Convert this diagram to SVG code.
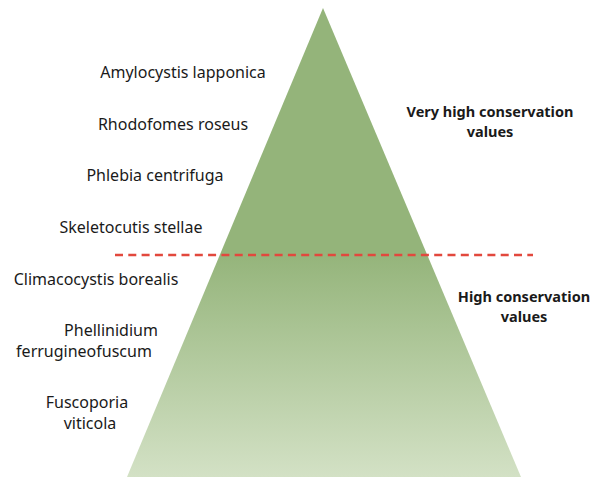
<svg xmlns="http://www.w3.org/2000/svg" width="599" height="477" viewBox="0 0 599 477">
<defs>
<linearGradient id="g" x1="0" y1="8" x2="0" y2="477" gradientUnits="userSpaceOnUse">
<stop offset="0" stop-color="#94b47a"/>
<stop offset="0.52" stop-color="#94b47a"/>
<stop offset="1" stop-color="#d3e1c5"/>
</linearGradient>
</defs>
<style>
.sp{font-family:"Noto Sans","Liberation Sans",sans-serif;font-size:16px;fill:#1a1a1a;text-anchor:middle}
.lv{font-family:"Noto Sans","Liberation Sans",sans-serif;font-size:14.5px;font-weight:bold;fill:#1a1a1a;text-anchor:middle}
</style>
<rect width="599" height="477" fill="#ffffff"/>
<g id="pyramid"><polygon points="323,8 127,477 521,477" fill="url(#g)"/></g>
<g id="divider"><line x1="115" y1="255" x2="533" y2="255" stroke="#e2483d" stroke-width="2.6" stroke-dasharray="8,5.3"/></g>
<g id="species">
<text class="sp" x="183" y="78">Amylocystis lapponica</text>
<text class="sp" x="173" y="130">Rhodofomes roseus</text>
<text class="sp" x="155" y="181">Phlebia centrifuga</text>
<text class="sp" x="131" y="233">Skeletocutis stellae</text>
<text class="sp" x="96" y="285">Climacocystis borealis</text>
<text class="sp" x="111" y="336">Phellinidium</text>
<text class="sp" x="84" y="357">ferrugineofuscum</text>
<text class="sp" x="87" y="408">Fuscoporia</text>
<text class="sp" x="90" y="429">viticola</text>
</g>
<g id="levels">
<text class="lv" x="490" y="117">Very high conservation</text>
<text class="lv" x="490" y="137">values</text>
<text class="lv" x="524" y="302">High conservation</text>
<text class="lv" x="524" y="322">values</text>
</g>
</svg>
